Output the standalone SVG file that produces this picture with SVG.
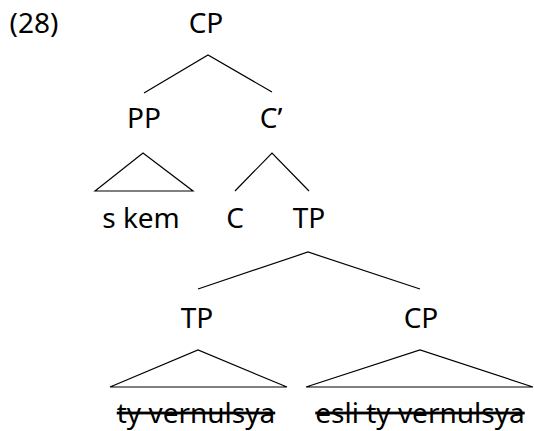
<svg xmlns="http://www.w3.org/2000/svg" width="534" height="431" viewBox="0 0 534 431">
<style>
text{font-family:"Noto Sans","Liberation Sans",sans-serif;font-size:28px;fill:#000;text-anchor:middle}
.l{stroke:#000;stroke-width:1.2;fill:none}
.s{text-decoration:line-through;text-decoration-thickness:1px}
</style>
<rect width="534" height="431" fill="#fff"/>
<text x="34" y="33">(28)</text>
<g id="connectors">
<path class="l" d="M144 93L208 55L272 92"/>
<path class="l" d="M95 191L143 153L193 191Z"/>
<path class="l" d="M235 191L272 153L309 191"/>
<path class="l" d="M198 289L308 252L420 289"/>
<path class="l" d="M110 387L198 350L287 387Z"/>
<path class="l" d="M306 387L420 350L533 387Z"/>
</g>
<g id="n-cp"><text x="206" y="33">CP</text></g>
<g id="n-pp"><text x="144" y="128">PP</text></g>
<g id="n-cbar"><text x="271" y="128">C’</text></g>
<g id="n-skem"><text x="141" y="228">s kem</text></g>
<g id="n-c"><text x="235" y="228">C</text></g>
<g id="n-tp"><text x="309" y="228">TP</text></g>
<g id="n-tp2"><text x="197" y="328">TP</text></g>
<g id="n-cp2"><text x="421" y="328">CP</text></g>
<g id="n-ty"><text class="s" x="196" y="423">ty vernulsya</text></g>
<g id="n-esli"><text class="s" x="420" y="423">esli ty vernulsya</text></g>
</svg>
